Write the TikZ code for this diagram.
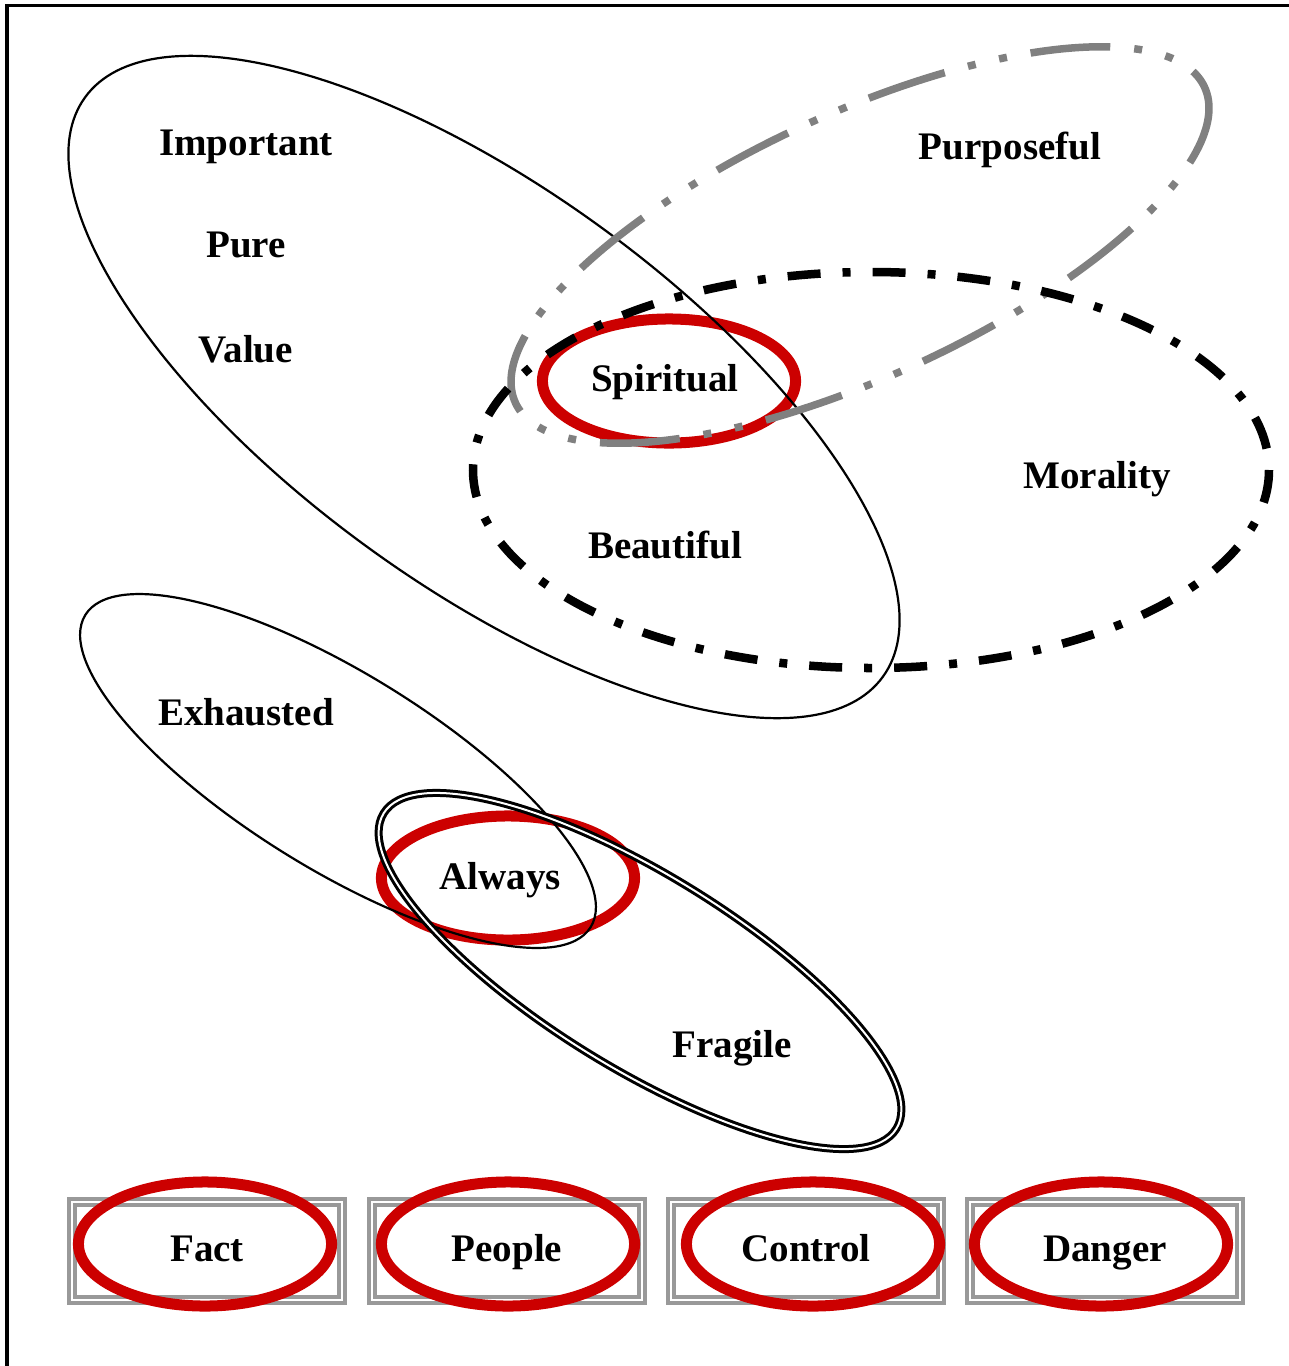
\documentclass[tikz,border=0pt]{standalone}
\usepackage{fontspec}
\setmainfont{Liberation Serif}
\usetikzlibrary{shapes.geometric}

\definecolor{ringred}{HTML}{CC0000}
\definecolor{boxgray}{HTML}{999999}
\definecolor{setgray}{HTML}{808080}

\begin{document}
\begin{tikzpicture}[x=0.01cm, y=-0.01cm,
    word/.style={font=\fontsize{11.1}{13}\selectfont\bfseries, inner sep=0pt},
    ring/.style={ellipse, draw=ringred, line width=0.11cm, minimum width=2.53cm, minimum height=1.24cm, inner sep=0pt},
    tagbox/.style={word, draw=boxgray, double=white, line width=0.04cm, double distance=0.02cm,
                   minimum width=2.69cm, minimum height=0.97cm, text height=0.28cm, text depth=0.08cm},
    thinset/.style={line width=0.022cm},
    twin/.style={draw=black, double=white, line width=0.03cm, double distance=0.02cm},
    setmoral/.style={line width=0.085cm, dash pattern=on 0.33cm off 0.22cm on 0.08cm off 0.22cm},
    setpurpose/.style={setgray, line width=0.075cm,
                       dash pattern=on 0.8cm off 0.24cm on 0.08cm off 0.24cm on 0.08cm off 0.24cm}]
    \useasboundingbox (0,0) rectangle (1289,1366);

    % Frame
    \draw [line width=0.03cm] (7,1366) -- (7,5) -- (1289,5);

    % Tags {fact, people, control, danger}
    \node [tagbox]  (fact)     at (207,1251)  {Fact};
    \node [tagbox]  (people)   at (507,1251)  {People};
    \node [tagbox]  (control)  at (806,1251)  {Control};
    \node [tagbox]  (danger)   at (1105,1251) {Danger};

    % Rings
    \node [ring]  (factring)      at (205,1244)  {};
    \node [ring]  (peoplering)    at (508,1244)  {};
    \node [ring]  (controlring)   at (813,1244)  {};
    \node [ring]  (dangerring)    at (1101,1244) {};
    \node [ring]  (spiritualring) at (669,381)   {};
    \node [ring]  (alwaysring)    at (508,878)   {};

    % Sets
    \draw [thinset, rotate around={-36:(484,387)}]     (484,387)   ellipse [x radius=493, y radius=198];
    \draw [setpurpose, rotate around={24.6:(860,245)}] (860,245)   ellipse [x radius=379, y radius=132];
    \draw [setmoral]                                    (871,470)   ellipse [x radius=398, y radius=198];
    \draw [thinset, rotate around={-31.7:(338,771)}]   (338,771)   ellipse [x radius=297, y radius=98];
    \draw [twin, rotate around={-31.6:(640,971)}]      (640,971)   ellipse [x radius=301, y radius=97];

    % Words
    \node [word]  (important)  at (246,147)  {Important};
    \node [word]  (pure)       at (246,245)  {Pure};
    \node [word]  (value)      at (246,349)  {Value};
    \node [word]  (purposeful) at (1010,150) {Purposeful};
    \node [word]  (spiritual)  at (665,382)  {Spiritual};
    \node [word]  (morality)   at (1097,479) {Morality};
    \node [word]  (beautiful)  at (665,545)  {Beautiful};
    \node [word]  (exhausted)  at (246,712)  {Exhausted};
    \node [word]  (always)     at (500,880)  {Always};
    \node [word]  (fragile)    at (732,1048) {Fragile};

\end{tikzpicture}
\end{document}
